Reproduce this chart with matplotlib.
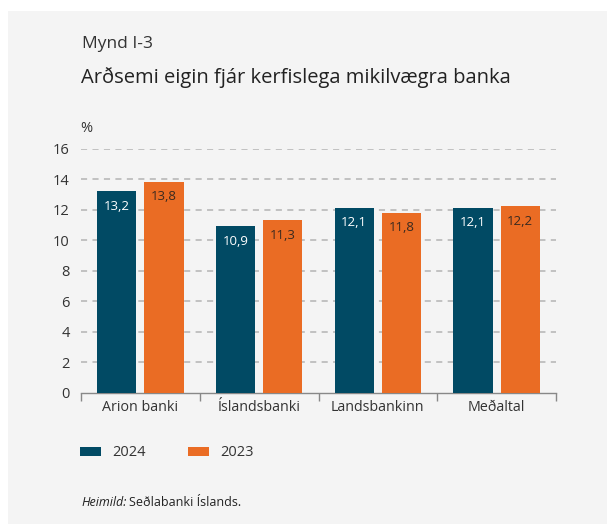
import matplotlib
matplotlib.use("Agg")
import matplotlib.pyplot as plt
import numpy as np
from matplotlib.patches import Rectangle

plt.rcParams['font.family'] = ['Open Sans', 'DejaVu Sans']

# Data
banks = ['Arion banki', 'Íslandsbanki', 'Landsbankinn', 'Meðaltal']
roe_2024 = [13.2, 10.9, 12.1, 12.1]
roe_2023 = [13.8, 11.3, 11.8, 12.2]
yticks = [0, 2, 4, 6, 8, 10, 12, 14, 16]

navy = '#014a64'
orange = '#ea6c24'
panel = '#f4f4f4'
txt = '#333333'

fig = plt.figure(figsize=(6.14, 5.24), dpi=100)
fig.patch.set_facecolor('white')
# grey panel behind the chart
fig.patches.append(Rectangle((8 / 614, 0), 599 / 614, 1 - 11 / 524,
                             transform=fig.transFigure, facecolor=panel,
                             edgecolor='none', zorder=-10))

ax = fig.add_axes([81 / 614, 1 - 392.7 / 524, 475 / 614, 244.2 / 524])
ax.set_facecolor(panel)

x = np.arange(len(banks))
w = 0.33
off = 0.199
b1 = ax.bar(x - off, roe_2024, w, color=navy, zorder=3, label='2024')
b2 = ax.bar(x + off, roe_2023, w, color=orange, zorder=3, label='2023')

# value labels inside the top of each bar
for bars, vals, col in [(b1, roe_2024, 'white'), (b2, roe_2023, '#3a2a20')]:
    for r, v in zip(bars, vals):
        ax.annotate(f'{v:.1f}'.replace('.', ','),
                    (r.get_x() + r.get_width() / 2, v),
                    xytext=(0, -6), textcoords='offset points',
                    ha='center', va='top', fontsize=9.5, color=col, zorder=4)

ax.set_xlim(-0.5, len(banks) - 0.5)
ax.set_ylim(0, 16)
ax.set_yticks(yticks)
ax.set_yticklabels([str(t) for t in yticks], fontsize=10.5, color=txt)
for t in yticks[1:]:
    ax.axhline(t, color='#b4b4b4', lw=1.1, ls=(0, (4, 3.5)), zorder=1)

ax.set_xticks(x)
ax.set_xticklabels(banks, fontsize=10.3, color=txt)
ax.tick_params(axis='x', length=0, pad=5)
ax.set_xticks(np.arange(-0.5, len(banks)), minor=True)
ax.tick_params(axis='x', which='minor', length=6, color='#888888', width=1)
ax.tick_params(axis='y', length=0, pad=8)

for s in ['top', 'right', 'left']:
    ax.spines[s].set_visible(False)
ax.spines['bottom'].set_color('#888888')
ax.spines['bottom'].set_linewidth(1)

# texts
fig.text(82 / 614, 1 - 44 / 524, 'Mynd I-3', fontsize=12.5, color=txt, va='center')
fig.text(81 / 614, 1 - 78 / 524, 'Arðsemi eigin fjár kerfislega mikilvægra banka',
         fontsize=14.5, color='#222222', va='center')
fig.text(80 / 614, 1 - 129 / 524, '%', fontsize=10.5, color=txt, va='center')

# legend
fig.legend(handles=[b1, b2], labels=['2024', '2023'], loc='center left',
           bbox_to_anchor=(80 / 614, 1 - 453 / 524), ncol=2, frameon=False,
           fontsize=10.5, handlelength=1.45, handleheight=0.6,
           borderpad=0, borderaxespad=0,
           columnspacing=2.9, handletextpad=0.75, labelcolor=txt)

fig.text(81 / 614, 1 - 502 / 524, 'Heimild:', fontsize=9, style='italic',
         color='#222222', va='center')
fig.text(129 / 614, 1 - 502 / 524, 'Seðlabanki Íslands.', fontsize=9,
         color='#222222', va='center')

fig.savefig('out.png', dpi=100, facecolor=fig.get_facecolor())
